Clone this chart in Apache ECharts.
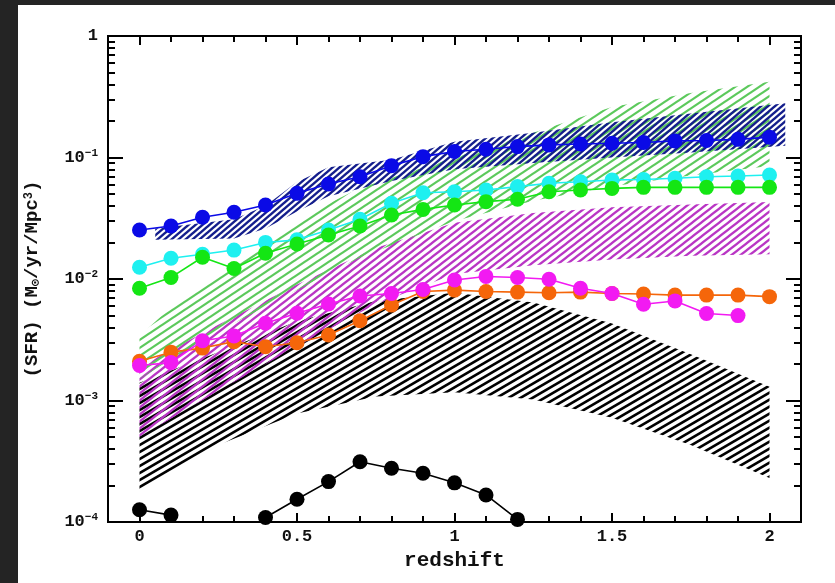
<!DOCTYPE html>
<html><head><meta charset="utf-8">
<script src="https://cdn.jsdelivr.net/npm/echarts@6/dist/echarts.min.js"></script>
<style>
html,body{margin:0;padding:0;background:#242424;width:835px;height:583px;overflow:hidden;}
#c{position:absolute;left:18px;top:5px;width:817px;height:578px;background:#fff;}
</style></head>
<body><div id="c"></div>
<script>
// ---- data ----
const redshift = [0,0.1,0.2,0.3,0.4,0.5,0.6,0.7,0.8,0.9,1.0,1.1,1.2,1.3,1.4,1.5,1.6,1.7,1.8,1.9,2.0];
const blueSFR    = [0.0253,0.0273,0.0322,0.0354,0.0407,0.0507,0.0605,0.0695,0.0857,0.1016,0.112,0.117,0.123,0.127,0.129,0.131,0.133,0.137,0.138,0.141,0.147];
const cyanSFR    = [0.0125,0.0148,0.016,0.0173,0.0200,0.021,0.0253,0.031,0.042,0.0513,0.0523,0.054,0.0576,0.0613,0.0632,0.0653,0.066,0.0674,0.0695,0.0704,0.0718];
const greenSFR   = [0.0084,0.0103,0.0151,0.0122,0.0163,0.0194,0.023,0.0273,0.0336,0.0374,0.0407,0.0433,0.0453,0.0523,0.054,0.0557,0.0568,0.0568,0.0568,0.0568,0.0568];
const magentaSFR = [0.00194,0.00205,0.0031,0.0034,0.00432,0.00522,0.00623,0.00724,0.0076,0.0082,0.0098,0.0105,0.0103,0.00995,0.0084,0.0076,0.0062,0.0066,0.0052,0.0050,null];
const orangeSFR  = [0.0021,0.0025,0.0027,0.00305,0.00277,0.00299,0.00346,0.00454,0.0061,0.0079,0.0081,0.0079,0.0078,0.0077,0.0078,0.0076,0.00753,0.00737,0.00737,0.00737,0.00716];
const blackSFR   = [0.000126,0.000114,null,null,0.000109,0.000154,0.000215,0.000313,0.000277,0.000252,0.00021,0.000167,0.000105,null,null,null,null,null,null,null,null];

const blackBandZ    = [0,0.25,0.5,0.75,1.0,1.25,1.5,1.75,2.0];
const blackBandLow  = [0.00018,0.00043,0.00078,0.00108,0.00117,0.00102,0.00072,0.00043,0.00023];
const blackBandHigh = [0.0014,0.0025,0.0045,0.0066,0.0077,0.0064,0.0043,0.0024,0.0013];

const magentaBandZ    = [0,0.25,0.5,0.75,1.0,1.25,1.5,1.75,2.0];
const magentaBandLow  = [0.0005,0.0012,0.0028,0.0062,0.011,0.013,0.0145,0.0155,0.016];
const magentaBandHigh = [0.0019,0.0042,0.009,0.018,0.029,0.035,0.039,0.041,0.043];

const greenBandZ    = [0,0.125,0.25,0.55,0.7,1.0,1.25,1.5,1.75,2.0];
const greenBandLow  = [0.0015,0.0024,0.0037,0.0095,0.015,0.03,0.044,0.058,0.071,0.085];
const greenBandHigh = [0.0034,0.0067,0.011,0.036,0.056,0.1,0.16,0.26,0.34,0.42];

const blueBandZ    = [0.05,0.3,0.4,0.5,0.6,0.8,1.0,1.25,1.5,1.75,2.05];
const blueBandLow  = [0.021,0.0215,0.026,0.036,0.048,0.064,0.08,0.09,0.1,0.11,0.125];
const blueBandHigh = [0.026,0.031,0.04,0.063,0.083,0.096,0.135,0.16,0.195,0.23,0.28];

const xMajor = [0,0.5,1,1.5,2];
const xMinor = [0.1,0.2,0.3,0.4,0.6,0.7,0.8,0.9,1.1,1.2,1.3,1.4,1.6,1.7,1.8,1.9];
const yMajor = [0.0001,0.001,0.01,0.1,1];
const yMinorMant = [2,3,4,5,6,7,8,9];
const yMinor = [];
[0.0001,0.001,0.01,0.1].forEach(d => yMinorMant.forEach(m => yMinor.push(+(d*m).toPrecision(3))));

// ---- helpers ----
function hatch(color, width, W, H) {
  const c = document.createElement('canvas');
  c.width = W; c.height = H;
  const ctx = c.getContext('2d');
  ctx.strokeStyle = color; ctx.lineWidth = width; ctx.lineCap = 'butt';
  for (let k = -1; k <= 1; k++) {
    ctx.beginPath();
    ctx.moveTo(-W, (k + 2) * H);
    ctx.lineTo(2 * W, (k - 1) * H);
    ctx.stroke();
  }
  return { image: c, repeat: 'repeat' };
}
const FONT = '"Liberation Mono", "DejaVu Sans Mono", monospace';

function band(z, lo, hi, pattern, zl) {
  return {
    type: 'custom', coordinateSystem: 'cartesian2d', silent: true, z: zl,
    data: z.map((v, i) => [v, lo[i], hi[i]]),
    encode: { x: 0, y: [1, 2] },
    renderItem(params, api) {
      if (params.dataIndexInside !== 0) return null;
      const n = params.dataInsideLength;
      const top = [], bot = [];
      for (let i = 0; i < n; i++) {
        top.push(api.coord([api.value(0, i), api.value(2, i)]));
        bot.push(api.coord([api.value(0, i), api.value(1, i)]));
      }
      return { type: 'polygon', shape: { points: top.concat(bot.reverse()) }, style: { fill: pattern } };
    }
  };
}
function pts(vals, color, zl) {
  return {
    type: 'line', z: zl, symbol: 'circle', symbolSize: 15, connectNulls: false,
    data: redshift.map((x, i) => [x, vals[i] == null ? '-' : vals[i]]),
    itemStyle: { color: color }, lineStyle: { color: color, width: 1.6 }
  };
}

const axTxt = { fontFamily: FONT, fontWeight: 'bold', color: '#111' };
function xAx(pos, vals, len, labels) {
  return {
    type: 'value', min: -0.1, max: 2.1, position: pos,
    axisLine: { show: true, onZero: false, lineStyle: { color: '#000', width: 2 } },
    axisTick: { show: true, inside: true, length: len, customValues: vals, lineStyle: { color: '#000', width: 2 } },
    axisLabel: labels ? Object.assign({ show: true, customValues: vals, margin: 6, fontSize: 17, formatter: v => String(v) }, axTxt) : { show: false },
    splitLine: { show: false }
  };
}
function yAx(pos, vals, len, labels) {
  return {
    type: 'log', logBase: 10, min: 0.0001, max: 1, position: pos,
    axisLine: { show: true, onZero: false, lineStyle: { color: '#000', width: 2 } },
    axisTick: { show: true, inside: true, length: len, customValues: vals, lineStyle: { color: '#000', width: 2 } },
    axisLabel: labels ? {
      show: true, customValues: vals, margin: 10,
      formatter: v => { const e = Math.round(Math.log10(v)); return e === 0 ? '{b|1}' : '{b|10}{s|−' + (-e) + '}'; },
      rich: {
        b: Object.assign({ fontSize: 17, lineHeight: 20 }, axTxt),
        s: Object.assign({ fontSize: 11, lineHeight: 20, verticalAlign: 'top', padding: [0, 0, 6, 0] }, axTxt)
      }
    } : { show: false },
    splitLine: { show: false }
  };
}

const x0 = xAx('bottom', xMajor, 9, true);
x0.name = 'redshift'; x0.nameLocation = 'middle'; x0.nameGap = 27;
x0.nameTextStyle = Object.assign({ fontSize: 21 }, axTxt);
const y0 = yAx('left', yMajor, 15, true);
y0.name = '(SFR) (M{sub|⊙}/yr/Mpc{sup|3})';
y0.nameLocation = 'middle'; y0.nameGap = 66; y0.nameRotate = 90;
y0.nameTextStyle = Object.assign({ fontSize: 19, rich: {
  sub: Object.assign({ fontSize: 12, verticalAlign: 'bottom', padding: [7, 0, 0, 0] }, axTxt),
  sup: Object.assign({ fontSize: 12, verticalAlign: 'top', padding: [0, 0, 7, 0] }, axTxt)
} }, axTxt);

const chart = echarts.init(document.getElementById('c'), null, { renderer: 'canvas' });
chart.setOption({
  animation: false,
  backgroundColor: '#ffffff',
  grid: { left: 90, top: 31, right: 34, bottom: 61, containLabel: false, outerBoundsMode: 'none' },
  xAxis: [x0, xAx('bottom', xMinor, 6, false), xAx('top', xMajor, 9, false), xAx('top', xMinor, 6, false)],
  yAxis: [y0, yAx('left', yMinor, 7, false), yAx('right', yMajor, 15, false), yAx('right', yMinor, 7, false)],
  series: [
    band(blackBandZ, blackBandLow, blackBandHigh, hatch('#000000', 2.6, 12, 7), 1),
    band(magentaBandZ, magentaBandLow, magentaBandHigh, hatch('#b935c4', 2.2, 9, 7), 2),
    band(greenBandZ, greenBandLow, greenBandHigh, hatch('#5cc95c', 2.2, 12, 8), 3),
    band(blueBandZ, blueBandLow, blueBandHigh, hatch('#141e8c', 2.4, 7, 6), 4),
    pts(blackSFR, '#000000', 10),
    pts(orangeSFR, '#f5660a', 11),
    pts(magentaSFR, '#f21af2', 12),
    pts(cyanSFR, '#1ef0f0', 13),
    pts(greenSFR, '#14e614', 14),
    pts(blueSFR, '#0a0ae6', 15)
  ]
});
</script></body></html>
